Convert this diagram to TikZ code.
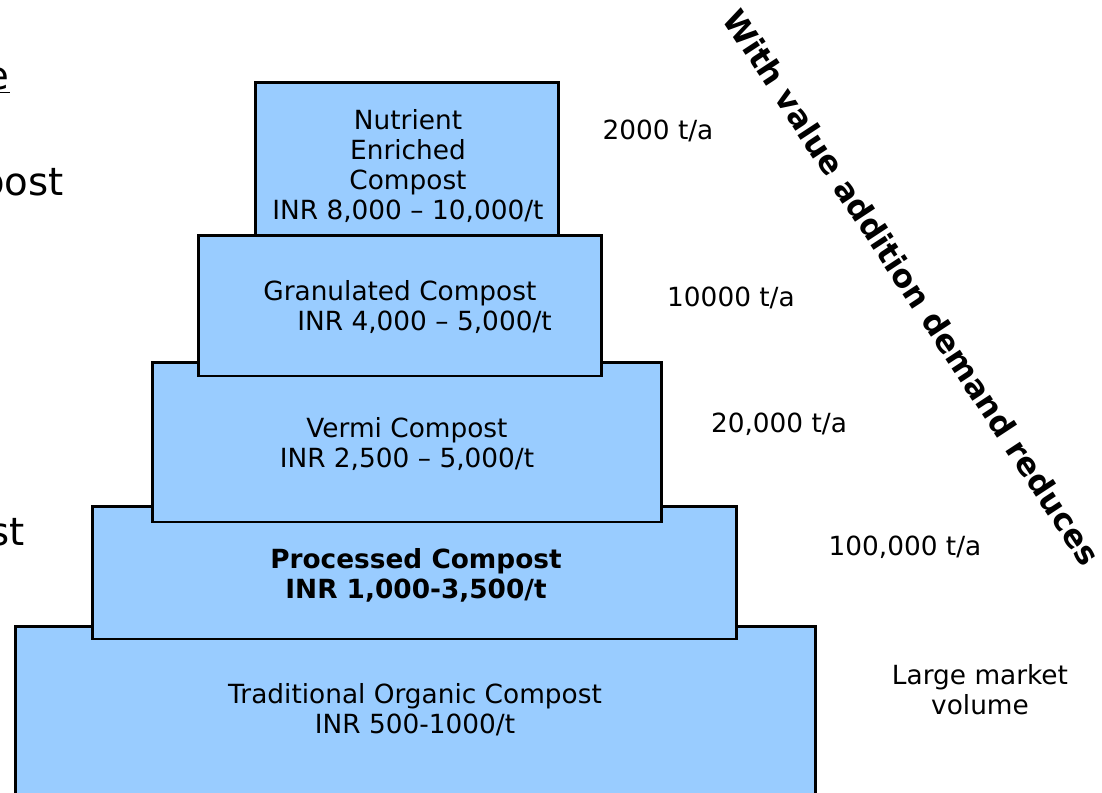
\documentclass[tikz,border=0pt]{standalone}
\usepackage{fontspec}
\setmainfont{DejaVu Sans}
\usepackage{xcolor}
\usepackage{tikz}

\definecolor{tierblue}{HTML}{99CCFF}
\newcommand{\rng}{\hspace{0.17cm}--\hspace{0.17cm}}

\begin{document}
\begin{tikzpicture}[x=0.02cm, y=-0.02cm]
    % Define styles
    \tikzstyle{tier} = [rectangle, draw=black, fill=tierblue, line width=1.7pt, inner sep=0pt]
    \tikzstyle{price} = [align=center, inner sep=0pt, font=\fontsize{15}{17}\selectfont]
    \tikzstyle{volume} = [align=center, inner sep=0pt, font=\fontsize{15}{17}\selectfont]
    \tikzstyle{trend} = [inner sep=0pt, font=\fontsize{18}{21}\selectfont\bfseries]
    \tikzstyle{cutoff} = [inner sep=0pt, anchor=base east, font=\fontsize{22}{26}\selectfont]

    \useasboundingbox (0,0) rectangle (1102,792);
    \clip (0,0) rectangle (1102,792);

    % Cut-off text on the left
    \node[cutoff] (cutE) at (10,89) {\underline{e}};
    \node[cutoff] (cutPost) at (64,195) {post};
    \node[cutoff] (cutSt) at (25,545) {st};

    % Pyramid tiers, from the base up
    \node[tier, minimum width=16.02cm, minimum height=4cm] (trad) at (415.5,726) {};
    \node[tier, minimum width=12.9cm, minimum height=2.66cm] (proc) at (414.5,572.5) {};
    \node[tier, minimum width=10.2cm, minimum height=3.2cm] (vermi) at (407,442) {};
    \node[tier, minimum width=8.08cm, minimum height=2.82cm] (gran) at (400,305.5) {};
    \node[tier, minimum width=6.08cm, minimum height=3.08cm] (nutr) at (407,159) {};

    % Tier texts
    \node[price] (nutrText) at (408,166) {Nutrient\\ Enriched\\Compost\\INR 8,000\rng 10,000/t};
    \node[price, align=left, anchor=west] (granText) at (263,307) {Granulated Compost\\\hspace*{0.68cm}INR 4,000\rng 5,000/t};
    \node[price] (vermiText) at (407,444) {Vermi Compost\\INR 2,500\rng 5,000/t};
    \node[price, font=\fontsize{15}{17}\selectfont\bfseries] (procText) at (416,575) {Processed Compost\\INR 1,000-3,500/t};
    \node[price] (tradText) at (415,710) {Traditional Organic Compost\\INR 500-1000/t};

    % Demand per tier
    \node[volume] (volNutr) at (658,131) {2000 t/a};
    \node[volume] (volGran) at (731,298) {10000 t/a};
    \node[volume] (volVermi) at (779,424) {20,000 t/a};
    \node[volume] (volProc) at (905,547) {100,000 t/a};
    \node[volume] (volTrad) at (980,690) {Large market\\volume};

    % Trend
    \node[trend, rotate=-56.7] (trend) at (912,287) {With value addition demand reduces};

\end{tikzpicture}
\end{document}
